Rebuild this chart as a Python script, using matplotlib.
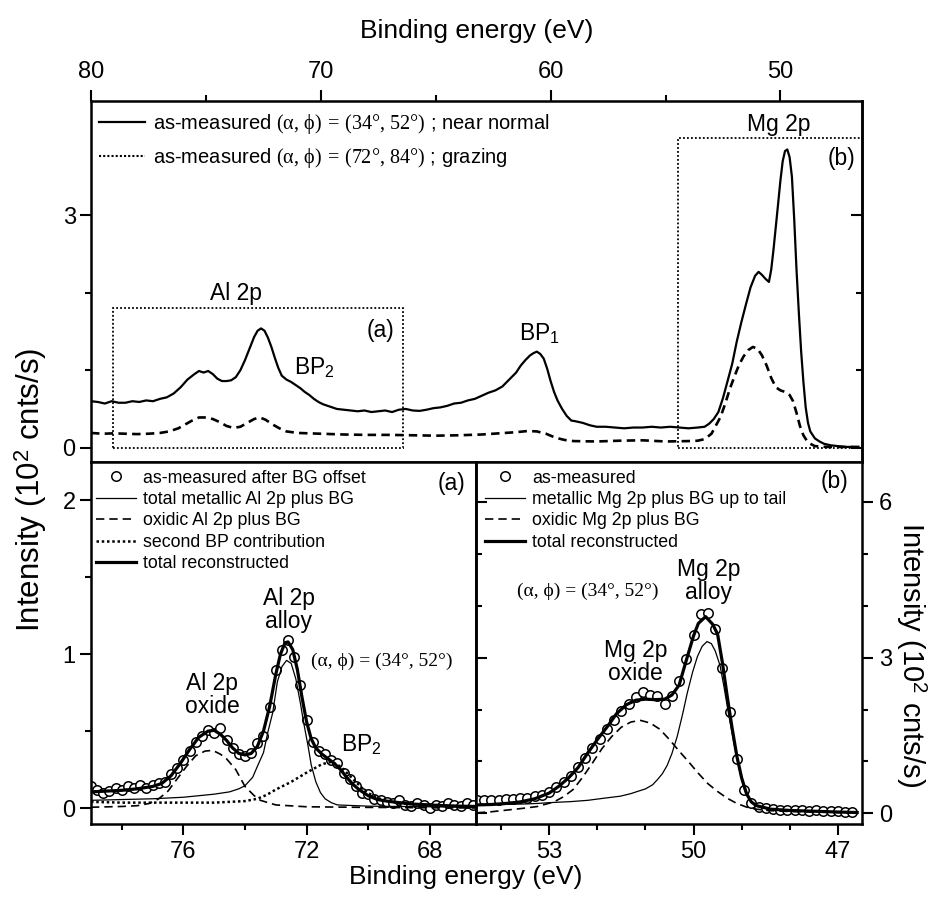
import matplotlib.pyplot as plt
from matplotlib.lines import Line2D
from matplotlib.patches import Rectangle
from matplotlib.ticker import FixedLocator

plt.rcParams['font.family'] = ['Liberation Sans', 'DejaVu Sans']
plt.rcParams['mathtext.fontset'] = 'custom'
plt.rcParams['mathtext.rm'] = 'Liberation Serif'
plt.rcParams['mathtext.it'] = 'Liberation Serif:italic'
plt.rcParams['mathtext.bf'] = 'Liberation Serif:bold'
plt.rcParams['mathtext.sf'] = 'Liberation Sans'

# ---- top panel: survey spectra (binding energy in eV, intensity in 10^2 cnts/s)
nn_E = [80.0, 79.7, 79.4, 79.1, 78.8, 78.5, 78.2, 77.9, 77.6, 77.3, 77.0, 76.7, 76.4, 76.1,
        75.8, 75.5, 75.3, 75.1, 74.9, 74.7, 74.5, 74.3, 74.1, 73.9, 73.7, 73.5, 73.3, 73.1,
        72.9, 72.75, 72.6, 72.45, 72.3, 72.15, 72.0, 71.85, 71.7, 71.5, 71.3, 71.1, 70.9, 70.7,
        70.5, 70.3, 70.1, 69.9, 69.6, 69.3, 69.0, 68.7, 68.4, 68.1, 67.8, 67.5, 67.2, 66.9,
        66.6, 66.3, 66.0, 65.7, 65.4, 65.1, 64.8, 64.5, 64.2, 63.9, 63.6, 63.3, 63.0, 62.7,
        62.4, 62.1, 61.8, 61.5, 61.3, 61.1, 60.9, 60.75, 60.6, 60.45, 60.3, 60.15, 60.0, 59.85,
        59.7, 59.5, 59.3, 59.1, 58.9, 58.6, 58.3, 58.0, 57.6, 57.2, 56.8, 56.4, 56.0, 55.6,
        55.2, 54.8, 54.4, 54.0, 53.6, 53.3, 53.1, 52.9, 52.7, 52.5, 52.3, 52.1, 51.9, 51.7,
        51.5, 51.3, 51.1, 50.95, 50.8, 50.65, 50.5, 50.4, 50.3, 50.2, 50.1, 50.0, 49.9, 49.8,
        49.7, 49.6, 49.5, 49.4, 49.3, 49.2, 49.1, 49.0, 48.9, 48.8, 48.7, 48.5, 48.3, 48.1,
        47.8, 47.5, 47.2, 46.9, 46.6]
nn_I = [0.60, 0.59, 0.57, 0.60, 0.58, 0.58, 0.60, 0.59, 0.61, 0.60, 0.63, 0.65, 0.70, 0.78,
        0.88, 0.95, 0.99, 0.97, 0.99, 0.95, 0.89, 0.86, 0.86, 0.87, 0.91, 1.00, 1.13, 1.28,
        1.43, 1.51, 1.54, 1.51, 1.42, 1.30, 1.16, 1.03, 0.93, 0.88, 0.85, 0.81, 0.77, 0.72,
        0.68, 0.63, 0.59, 0.56, 0.53, 0.50, 0.49, 0.48, 0.47, 0.48, 0.46, 0.47, 0.48, 0.46,
        0.49, 0.50, 0.48, 0.475, 0.49, 0.51, 0.52, 0.54, 0.57, 0.58, 0.61, 0.63, 0.67, 0.71,
        0.74, 0.79, 0.88, 0.97, 1.06, 1.13, 1.19, 1.22, 1.24, 1.21, 1.15, 1.02, 0.86, 0.72,
        0.61, 0.50, 0.41, 0.35, 0.34, 0.32, 0.29, 0.27, 0.27, 0.26, 0.25, 0.26, 0.26, 0.27,
        0.26, 0.27, 0.26, 0.25, 0.26, 0.27, 0.31, 0.37, 0.46, 0.64, 0.86, 1.08, 1.37, 1.62,
        1.85, 2.07, 2.22, 2.27, 2.23, 2.18, 2.14, 2.30, 2.56, 2.85, 3.15, 3.45, 3.70, 3.83,
        3.85, 3.75, 3.50, 2.95, 2.30, 1.75, 1.25, 0.85, 0.52, 0.32, 0.21, 0.12, 0.08, 0.05,
        0.03, 0.02, 0.01, 0.01, 0.0]

gr_E = [80.0, 79.5, 79.0, 78.5, 78.0, 77.5, 77.0, 76.6, 76.2, 75.9, 75.6, 75.3, 75.0, 74.7,
        74.4, 74.1, 73.8, 73.5, 73.2, 72.9, 72.65, 72.4, 72.1, 71.8, 71.5, 71.0, 70.5, 70.0,
        69.0, 68.0, 67.0, 66.0, 65.0, 64.0, 63.0, 62.0, 61.5, 61.0, 60.6, 60.2, 59.8, 59.4,
        59.0, 58.0, 57.0, 56.0, 55.0, 54.0, 53.6, 53.3, 53.0, 52.8, 52.6, 52.4, 52.2, 52.0,
        51.8, 51.6, 51.4, 51.2, 51.0, 50.8, 50.6, 50.4, 50.2, 50.0, 49.8, 49.6, 49.45, 49.3,
        49.15, 49.0, 48.85, 48.7, 48.5, 48.0, 47.0, 46.5]
gr_I = [0.19, 0.18, 0.185, 0.18, 0.175, 0.18, 0.19, 0.21, 0.25, 0.30, 0.35, 0.39, 0.39, 0.37,
        0.33, 0.28, 0.255, 0.27, 0.32, 0.37, 0.39, 0.36, 0.30, 0.25, 0.21, 0.19, 0.185, 0.18,
        0.17, 0.165, 0.165, 0.16, 0.155, 0.16, 0.17, 0.19, 0.20, 0.215, 0.21, 0.18, 0.13, 0.10,
        0.085, 0.08, 0.09, 0.095, 0.08, 0.085, 0.09, 0.11, 0.18, 0.29, 0.40, 0.57, 0.76, 0.92,
        1.07, 1.18, 1.26, 1.30, 1.28, 1.19, 1.06, 0.90, 0.78, 0.74, 0.72, 0.68, 0.60, 0.45,
        0.28, 0.16, 0.09, 0.05, 0.02, 0.01, 0.01, 0.01]

box_a = (79.03, 66.43, 0.0, 1.80)   # E_left, E_right, I_bottom, I_top
box_b = (54.47, 46.0, 0.0, 4.00)

# ---- bottom left: Al 2p region
al_meas_E = [79.0, 78.8, 78.6, 78.4, 78.2, 78.0, 77.8, 77.6, 77.4, 77.2, 77.0, 76.8, 76.6,
             76.4, 76.2, 76.0, 75.8, 75.6, 75.4, 75.2, 75.0, 74.8, 74.6, 74.4, 74.2, 74.0,
             73.8, 73.6, 73.4, 73.2, 73.0, 72.8, 72.6, 72.4, 72.2, 72.0, 71.8, 71.6, 71.4,
             71.2, 71.0, 70.8, 70.6, 70.4, 70.2, 70.0, 69.8, 69.6, 69.4, 69.2, 69.0, 68.8,
             68.6, 68.4, 68.2, 68.0, 67.8, 67.6, 67.4, 67.2, 67.0, 66.8, 66.6]
al_meas_I = [0.14, 0.12, 0.10, 0.11, 0.13, 0.12, 0.14, 0.13, 0.15, 0.13, 0.15, 0.16, 0.17,
             0.22, 0.26, 0.31, 0.37, 0.43, 0.47, 0.51, 0.49, 0.52, 0.44, 0.39, 0.35, 0.34,
             0.36, 0.42, 0.47, 0.66, 0.90, 1.03, 1.09, 0.98, 0.80, 0.57, 0.43, 0.37, 0.35,
             0.31, 0.29, 0.23, 0.19, 0.14, 0.10, 0.09, 0.06, 0.05, 0.04, 0.03, 0.05, 0.02,
             0.01, 0.03, 0.02, 0.00, 0.02, 0.01, 0.03, 0.02, 0.01, 0.03, 0.02]

al_met_E = [79.0, 78.0, 77.0, 76.0, 75.5, 75.0, 74.5, 74.2, 74.0, 73.75, 73.6, 73.4, 73.25,
            73.1, 72.95, 72.8, 72.65, 72.5, 72.35, 72.2, 72.1, 71.95, 71.85, 71.7, 71.55,
            71.4, 71.2, 71.0, 70.0, 68.0, 66.5]
al_met_I = [0.05, 0.055, 0.06, 0.07, 0.08, 0.09, 0.105, 0.125, 0.145, 0.20, 0.27, 0.36, 0.50,
            0.62, 0.82, 0.92, 0.96, 0.94, 0.84, 0.68, 0.56, 0.40, 0.28, 0.17, 0.10,
            0.06, 0.035, 0.02, 0.012, 0.008, 0.005]

al_ox_E = [79.0, 78.0, 77.5, 77.1, 76.8, 76.5, 76.2, 75.9, 75.6, 75.3, 75.05, 74.8, 74.6,
           74.3, 74.0, 73.7, 73.5, 73.0, 72.0, 70.0, 66.5]
al_ox_I = [0.005, 0.01, 0.015, 0.03, 0.06, 0.11, 0.19, 0.27, 0.34, 0.37, 0.375, 0.35, 0.32,
           0.25, 0.14, 0.08, 0.05, 0.02, 0.008, 0.004, 0.0]

al_bp_E = [79.0, 78.0, 77.0, 76.0, 75.0, 74.5, 74.0, 73.6, 73.3, 73.0, 72.5, 72.0, 71.5,
           71.2, 70.9, 70.6, 70.35, 70.1, 69.85, 69.5, 69.2, 69.0, 68.0, 67.0, 66.5]
al_bp_I = [0.04, 0.035, 0.035, 0.035, 0.035, 0.04, 0.045, 0.06, 0.085, 0.12, 0.17, 0.23, 0.285,
           0.30, 0.27, 0.21, 0.16, 0.11, 0.08, 0.05, 0.04, 0.03, 0.018, 0.01, 0.008]

al_tot_E = [79.0, 78.5, 78.0, 77.5, 77.0, 76.7, 76.4, 76.1, 75.8, 75.5, 75.2, 75.0, 74.8,
            74.6, 74.4, 74.2, 74.0, 73.8, 73.6, 73.4, 73.2, 73.0, 72.85, 72.7, 72.6, 72.45,
            72.3, 72.15, 72.0, 71.85, 71.7, 71.5, 71.3, 71.1, 70.9, 70.7, 70.5, 70.3, 70.0,
            69.7, 69.4, 69.0, 68.5, 68.0, 67.5, 67.0, 66.5]
al_tot_I = [0.105, 0.11, 0.115, 0.125, 0.14, 0.16, 0.21, 0.29, 0.38, 0.46, 0.50, 0.505, 0.48,
            0.44, 0.39, 0.355, 0.345, 0.355, 0.40, 0.50, 0.66, 0.87, 1.00, 1.075, 1.08, 1.03,
            0.90, 0.72, 0.56, 0.45, 0.39, 0.35, 0.32, 0.29, 0.25, 0.20, 0.155, 0.12, 0.08,
            0.055, 0.045, 0.035, 0.025, 0.02, 0.015, 0.012, 0.01]

# ---- bottom right: Mg 2p region
mg_meas_E = [54.50, 54.35, 54.20, 54.05, 53.90, 53.75, 53.60, 53.45, 53.30, 53.15, 53.00,
             52.85, 52.70, 52.55, 52.40, 52.25, 52.10, 51.95, 51.80, 51.65, 51.50, 51.35,
             51.20, 51.05, 50.90, 50.75, 50.60, 50.45, 50.30, 50.15, 50.00, 49.85, 49.70,
             49.55, 49.40, 49.25, 49.10, 48.95, 48.80, 48.65, 48.50, 48.35, 48.20, 48.05,
             47.90, 47.75, 47.60, 47.45, 47.30, 47.15, 47.00, 46.85, 46.70]
mg_meas_I = [0.26, 0.25, 0.26, 0.25, 0.27, 0.27, 0.29, 0.30, 0.33, 0.36, 0.42, 0.50, 0.60,
             0.72, 0.89, 1.06, 1.25, 1.44, 1.62, 1.80, 1.98, 2.11, 2.25, 2.33, 2.28, 2.26,
             2.10, 2.27, 2.55, 2.97, 3.44, 3.85, 3.86, 3.55, 2.80, 1.95, 1.05, 0.45, 0.20,
             0.12, 0.10, 0.08, 0.07, 0.06, 0.07, 0.06, 0.05, 0.06, 0.05, 0.04, 0.04, 0.03,
             0.02]

mg_met_E = [54.5, 54.0, 53.5, 53.25, 52.9, 52.56, 52.2, 51.87, 51.52, 51.3, 51.17, 51.0,
            50.85, 50.75, 50.65, 50.55, 50.45, 50.34, 50.23, 50.13, 50.02, 49.92, 49.82,
            49.72, 49.63, 49.55, 49.45, 49.37, 49.27, 49.16, 49.08, 49.02, 48.95, 48.88,
            48.78, 48.67, 48.4, 48.0, 47.5, 47.0, 46.6]
mg_met_I = [0.16, 0.17, 0.18, 0.19, 0.21, 0.225, 0.25, 0.29, 0.33, 0.38, 0.42, 0.47,
            0.55, 0.65, 0.76, 0.92, 1.15, 1.48, 1.90, 2.32, 2.72, 3.02, 3.22,
            3.31, 3.27, 3.13, 2.85, 2.45, 1.90, 1.35, 0.98, 0.72, 0.48, 0.32,
            0.20, 0.13, 0.08, 0.06, 0.04, 0.025, 0.015]

mg_ox_E = [54.5, 54.2, 53.9, 53.6, 53.25, 52.9, 52.7, 52.5, 52.3, 52.1, 51.9, 51.7, 51.5,
           51.3, 51.1, 50.9, 50.7, 50.5, 50.3, 50.1, 49.9, 49.7, 49.5, 49.3, 49.1, 48.9,
           48.7, 48.4, 48.0, 47.5, 47.0, 46.6]
mg_ox_I = [0.01, 0.03, 0.06, 0.09, 0.13, 0.22, 0.32, 0.46, 0.70, 0.97, 1.25, 1.48, 1.66,
           1.76, 1.79, 1.74, 1.62, 1.42, 1.20, 0.99, 0.77, 0.57, 0.42, 0.29, 0.19, 0.12,
           0.08, 0.05, 0.035, 0.025, 0.015, 0.01]

mg_tot_E = [54.55, 54.2, 53.9, 53.6, 53.3, 53.0, 52.8, 52.6, 52.4, 52.2, 52.0, 51.8, 51.6,
            51.4, 51.2, 51.0, 50.8, 50.6, 50.45, 50.3, 50.15, 50.0, 49.9, 49.75, 49.6, 49.5,
            49.4, 49.3, 49.2, 49.1, 49.0, 48.9, 48.8, 48.7, 48.4, 48.0, 47.5, 47.0, 46.6]
mg_tot_I = [0.16, 0.17, 0.19, 0.22, 0.28, 0.39, 0.52, 0.68, 0.88, 1.16, 1.42, 1.66, 1.92,
            2.09, 2.18, 2.20, 2.19, 2.20, 2.28, 2.47, 2.95, 3.42, 3.66, 3.79, 3.64, 3.45,
            2.90, 2.25, 1.65, 1.10, 0.68, 0.38, 0.22, 0.15, 0.08, 0.055, 0.04, 0.025, 0.015]

sym = r"$\mathrm{(\alpha,\,\phi)\:=\:(%s°,\,%s°)}$"

fig = plt.figure(figsize=(9.3, 8.99), dpi=100)
W, H = 930.0, 899.0
ax = fig.add_axes([91 / W, 1 - 462 / H, 771 / W, 361.3 / H])
axl = fig.add_axes([91 / W, 1 - 824 / H, 385 / W, 362 / H])
axr = fig.add_axes([476 / W, 1 - 824 / H, 386 / W, 362 / H])

for a in (ax, axl, axr):
    for s in a.spines.values():
        s.set_linewidth(1.8)
    a.tick_params(which='major', length=8, width=1.5, labelsize=17, direction='out')
    a.tick_params(which='minor', length=4.5, width=1.5, direction='out')

# top panel
ax.plot(nn_E, nn_I, color='k', lw=1.6)
ax.plot(gr_E, gr_I, color='k', lw=1.9, dashes=(3.2, 2.0))
for b in (box_a, box_b):
    ax.add_patch(Rectangle((b[0], b[2]), b[1] - b[0], b[3] - b[2], fill=False,
                           ec='k', lw=1.3, ls=(0, (1, 1.2))))
ax.set_xlim(80, 46.45)
ax.set_ylim(-0.185, 4.48)
ax.xaxis.set_major_locator(FixedLocator([80, 70, 60, 50]))
ax.xaxis.set_minor_locator(FixedLocator([75, 65, 55]))
ax.yaxis.set_major_locator(FixedLocator([0, 3]))
ax.yaxis.set_minor_locator(FixedLocator([1, 2]))
ax.tick_params(axis='x', which='both', top=True, bottom=False, labeltop=True,
               labelbottom=False, pad=5)
ax.tick_params(axis='y', pad=3)
ax.set_yticklabels(['0', '3'])
ax.set_xticklabels(['80', '70', '60', '50'])
ax.xaxis.set_label_position('top')
ax.set_xlabel('Binding energy (eV)', fontsize=19, labelpad=16)
sec = ax.secondary_yaxis('right')
sec.yaxis.set_major_locator(FixedLocator([0, 3]))
sec.yaxis.set_minor_locator(FixedLocator([1, 2]))
sec.tick_params(which='major', direction='in', length=8, width=1.5, labelright=False)
sec.tick_params(which='minor', direction='in', length=4.5, width=1.5)
sec.spines['right'].set_linewidth(1.8)

h_top = [Line2D([], [], color='k', lw=1.6), Line2D([], [], color='k', lw=1.5, ls=(0, (1, 1)))]
ax.legend(h_top, ['as-measured ' + sym % ('34', '52') + ' ; near normal',
                  'as-measured ' + sym % ('72', '84') + ' ; grazing'],
          loc='upper left', bbox_to_anchor=(0.011, 0.968), frameon=False, fontsize=14.5,
          handlelength=2.25, handletextpad=0.4, labelspacing=0.5, borderpad=0,
          borderaxespad=0)

ax.text(0.188, 0.467, 'Al 2p', transform=ax.transAxes, fontsize=16.5, ha='center', va='center')
ax.text(0.375, 0.365, '(a)', transform=ax.transAxes, fontsize=16.5, ha='center', va='center')
ax.text(0.263, 0.241, r'BP$_\mathsf{2}$', transform=ax.transAxes, fontsize=16.5, ha='left',
        va='baseline')
ax.text(0.5555, 0.336, r'BP$_\mathsf{1}$', transform=ax.transAxes, fontsize=16.5, ha='left',
        va='baseline')
ax.text(0.8915, 0.917, 'Mg 2p', transform=ax.transAxes, fontsize=16.5, ha='center',
        va='baseline')
ax.text(0.974, 0.8405, '(b)', transform=ax.transAxes, fontsize=16.5, ha='center', va='center')

# bottom left panel
axl.plot(al_meas_E, al_meas_I, ls='none', marker='o', ms=6.8, mfc='white', mec='k', mew=1.1,
         label='as-measured after BG offset')
axl.plot(al_met_E, al_met_I, color='k', lw=0.9, label='total metallic Al 2p plus BG')
axl.plot(al_ox_E, al_ox_I, color='k', lw=1.2, dashes=(5, 3.0), label='oxidic Al 2p plus BG')
axl.plot(al_bp_E, al_bp_I, color='k', lw=1.8, ls=(0, (1, 1.1)), label='second BP contribution')
axl.plot(al_tot_E, al_tot_I, color='k', lw=2.3, label='total reconstructed')
axl.set_xlim(79.0, 66.5)
axl.set_ylim(-0.104, 2.25)
axl.xaxis.set_major_locator(FixedLocator([76, 72, 68]))
axl.xaxis.set_minor_locator(FixedLocator([78, 74, 70]))
axl.yaxis.set_major_locator(FixedLocator([0, 1, 2]))
axl.yaxis.set_minor_locator(FixedLocator([0.5, 1.5]))
axl.set_xticklabels(['76', '72', '68'])
axl.set_yticklabels(['0', '1', '2'])
axl.tick_params(axis='x', pad=4)
axl.tick_params(axis='y', pad=3)
axl.legend(loc='upper left', bbox_to_anchor=(0.014, 0.979), frameon=False, fontsize=12.8,
           handlelength=2.25, handletextpad=0.37, labelspacing=0.25, borderpad=0,
           borderaxespad=0, numpoints=1)
axl.text(0.937, 0.941, '(a)', transform=axl.transAxes, fontsize=16.5, ha='center', va='center')
axl.text(0.514, 0.591, 'Al 2p\nalloy', transform=axl.transAxes, fontsize=16.5, ha='center',
         va='center', linespacing=1.0)
axl.text(0.314, 0.356, 'Al 2p\noxide', transform=axl.transAxes, fontsize=16.5, ha='center',
         va='center', linespacing=1.0)
axl.text(0.6485, 0.1997, r'BP$_\mathsf{2}$', transform=axl.transAxes, fontsize=16.5,
         ha='left', va='baseline')
axl.text(0.755, 0.448, '(α, ϕ) = (34°, 52°)', transform=axl.transAxes, fontsize=14,
         ha='center', va='center', family=['Liberation Serif', 'DejaVu Serif'])

# bottom right panel
axr.plot(mg_meas_E, mg_meas_I, ls='none', marker='o', ms=6.8, mfc='white', mec='k', mew=1.1,
         label='as-measured')
axr.plot(mg_met_E, mg_met_I, color='k', lw=0.9, label='metallic Mg 2p plus BG up to tail')
axr.plot(mg_ox_E, mg_ox_I, color='k', lw=1.2, dashes=(5, 3.0), label='oxidic Mg 2p plus BG')
axr.plot(mg_tot_E, mg_tot_I, color='k', lw=2.3, label='total reconstructed')
axr.set_xlim(54.52, 46.5)
axr.set_ylim(-0.206, 6.77)
axr.xaxis.set_major_locator(FixedLocator([53, 50, 47]))
axr.xaxis.set_minor_locator(FixedLocator([54, 52, 51, 49, 48]))
axr.yaxis.set_major_locator(FixedLocator([0, 3, 6]))
axr.yaxis.set_minor_locator(FixedLocator([1, 2, 4, 5]))
axr.set_xticklabels(['53', '50', '47'])
axr.set_yticklabels(['0', '3', '6'])
axr.yaxis.tick_right()
axr.tick_params(axis='y', which='both', left=False, right=True, labelleft=False,
                labelright=True, pad=4)
axr.tick_params(axis='x', pad=4)
sec2 = axr.secondary_yaxis('left')
sec2.yaxis.set_major_locator(FixedLocator([0, 3, 6]))
sec2.yaxis.set_minor_locator(FixedLocator([1, 2, 4, 5]))
sec2.tick_params(which='major', direction='in', length=8, width=1.5, labelleft=False)
sec2.tick_params(which='minor', direction='in', length=4.5, width=1.5)
sec2.spines['left'].set_linewidth(1.8)
axr.legend(loc='upper left', bbox_to_anchor=(0.024, 0.979), frameon=False, fontsize=12.8,
           handlelength=2.25, handletextpad=0.37, labelspacing=0.25, borderpad=0,
           borderaxespad=0, numpoints=1)
axr.text(0.930, 0.9456, '(b)', transform=axr.transAxes, fontsize=16.5, ha='center',
         va='center')
axr.text(0.602, 0.671, 'Mg 2p\nalloy', transform=axr.transAxes, fontsize=16.5, ha='center',
         va='center', linespacing=1.0)
axr.text(0.414, 0.448, 'Mg 2p\noxide', transform=axr.transAxes, fontsize=16.5, ha='center',
         va='center', linespacing=1.0)
axr.text(0.289, 0.642, '(α, ϕ) = (34°, 52°)', transform=axr.transAxes, fontsize=14,
         ha='center', va='center', family=['Liberation Serif', 'DejaVu Serif'])

# shared labels
fig.text(466 / W, 1 - 877 / H, 'Binding energy (eV)', fontsize=19, ha='center', va='center')
fig.text(31 / W, 1 - 490 / H, r'Intensity (10$^\mathsf{2}$ cnts/s)', fontsize=22.5,
         rotation=90, ha='center', va='center')
fig.text(911 / W, 1 - 655 / H, r'Intensity (10$^\mathsf{2}$ cnts/s)', fontsize=21,
         rotation=-90, ha='center', va='center')

fig.savefig('out.png', dpi=100)
plt.close(fig)
